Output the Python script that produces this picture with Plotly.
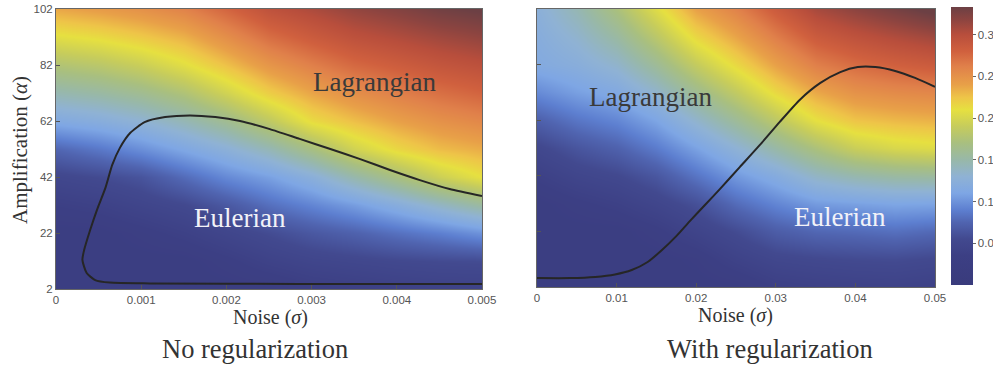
import plotly.graph_objects as go

# ---- grids (noise on x, amplification on y) ----
noise_left = [0, 0.0005, 0.001, 0.0015, 0.002, 0.0025, 0.003, 0.0035, 0.004, 0.0045, 0.005]
noise_right = [0, 0.005, 0.01, 0.015, 0.02, 0.025, 0.03, 0.035, 0.04, 0.045, 0.05]
amplification = [2, 12, 22, 32, 42, 52, 62, 72, 82, 92, 102]

# error maps, one row per amplification level (bottom to top), one column per noise level
err_no_reg = [
    [0.026, 0.026, 0.026, 0.026, 0.026, 0.027, 0.033, 0.036, 0.039, 0.041, 0.042],
    [0.026, 0.026, 0.026, 0.026, 0.033, 0.042, 0.048, 0.051, 0.054, 0.056, 0.057],
    [0.026, 0.026, 0.032, 0.039, 0.048, 0.057, 0.066, 0.073, 0.082, 0.090, 0.100],
    [0.036, 0.040, 0.047, 0.054, 0.066, 0.081, 0.093, 0.105, 0.120, 0.137, 0.154],
    [0.051, 0.056, 0.063, 0.079, 0.095, 0.107, 0.124, 0.148, 0.170, 0.193, 0.210],
    [0.076, 0.086, 0.098, 0.112, 0.126, 0.144, 0.169, 0.196, 0.215, 0.228, 0.235],
    [0.115, 0.121, 0.130, 0.144, 0.161, 0.185, 0.213, 0.227, 0.240, 0.250, 0.257],
    [0.146, 0.152, 0.161, 0.175, 0.196, 0.220, 0.238, 0.252, 0.262, 0.271, 0.278],
    [0.176, 0.182, 0.192, 0.207, 0.226, 0.247, 0.262, 0.275, 0.283, 0.291, 0.297],
    [0.207, 0.213, 0.222, 0.233, 0.252, 0.272, 0.285, 0.296, 0.303, 0.310, 0.316],
    [0.237, 0.243, 0.250, 0.260, 0.277, 0.295, 0.305, 0.315, 0.322, 0.330, 0.335],
]
err_with_reg = [
    [0.026, 0.026, 0.026, 0.026, 0.026, 0.027, 0.036, 0.039, 0.041, 0.042, 0.039],
    [0.026, 0.026, 0.026, 0.026, 0.030, 0.042, 0.051, 0.054, 0.056, 0.057, 0.054],
    [0.026, 0.026, 0.026, 0.033, 0.045, 0.057, 0.070, 0.077, 0.079, 0.082, 0.078],
    [0.026, 0.033, 0.039, 0.048, 0.060, 0.079, 0.093, 0.104, 0.107, 0.110, 0.109],
    [0.038, 0.048, 0.054, 0.065, 0.084, 0.103, 0.118, 0.137, 0.147, 0.153, 0.155],
    [0.052, 0.064, 0.073, 0.088, 0.108, 0.129, 0.151, 0.173, 0.192, 0.201, 0.205],
    [0.072, 0.085, 0.094, 0.110, 0.134, 0.158, 0.184, 0.210, 0.225, 0.230, 0.233],
    [0.096, 0.107, 0.115, 0.134, 0.161, 0.187, 0.215, 0.237, 0.250, 0.255, 0.258],
    [0.116, 0.122, 0.134, 0.158, 0.188, 0.214, 0.240, 0.262, 0.273, 0.280, 0.285],
    [0.120, 0.133, 0.153, 0.182, 0.215, 0.238, 0.263, 0.285, 0.295, 0.303, 0.310],
    [0.125, 0.145, 0.172, 0.205, 0.240, 0.260, 0.285, 0.307, 0.318, 0.328, 0.338],
]

# Eulerian / Lagrangian boundary curves
boundary_no_reg_x = [0.005, 0.00286, 0.0011, 0.00063, 0.00046, 0.00036, 0.00031, 0.00033, 0.0004,
                     0.00048, 0.00058, 0.00066, 0.00075, 0.00087, 0.00104, 0.00128, 0.00157, 0.00187,
                     0.00216, 0.00251, 0.00286, 0.00322, 0.00357, 0.00392, 0.00427, 0.00462, 0.005]
boundary_no_reg_y = [3.8, 3.8, 4.0, 4.3, 5.2, 7.7, 12.4, 15.9, 23.0, 30.2, 38.1, 46.3, 52.4, 57.7,
                     61.6, 63.4, 64.0, 63.4, 62.0, 59.1, 55.6, 52.0, 48.4, 44.5, 40.9, 37.7, 35.2]
boundary_with_reg_x = [0, 0.00415, 0.0073, 0.0098, 0.0119, 0.0139, 0.0157, 0.0175, 0.0192, 0.0211,
                       0.0230, 0.0255, 0.0280, 0.0305, 0.0330, 0.0356, 0.0381, 0.0403, 0.0425,
                       0.0450, 0.0475, 0.05]
boundary_with_reg_y = [5.2, 5.2, 5.6, 6.5, 8.1, 11.0, 15.3, 20.3, 25.7, 31.5, 37.3, 45.2, 53.1,
                       61.4, 69.3, 75.4, 79.3, 81.1, 81.1, 79.7, 77.2, 74.0]

left_xticks = [0, 0.001, 0.002, 0.003, 0.004, 0.005]
right_xticks = [0, 0.01, 0.02, 0.03, 0.04, 0.05]
yticks = [2, 22, 42, 62, 82, 102]
cbar_ticks = [0.05, 0.1, 0.15, 0.2, 0.25, 0.3]

CMAX = 0.333
stops = [
    (0.000, "#393b7c"), (0.035, "#3c3f84"), (0.055, "#42498f"), (0.075, "#5064b0"),
    (0.090, "#5d7fd0"), (0.110, "#7ea6e4"), (0.130, "#8fb2d4"), (0.150, "#98b8a8"),
    (0.170, "#a8bf80"), (0.190, "#c6cc5c"), (0.210, "#e6e040"), (0.225, "#eec448"),
    (0.240, "#e8a048"), (0.262, "#e0804a"), (0.280, "#d0603e"), (0.300, "#b84e3c"),
    (0.318, "#8c4440"), (0.333, "#6c4044"),
]
colorscale = [[v / CMAX, c] for v, c in stops]

SERIF = "Liberation Serif, DejaVu Serif, serif"
SANS = "Liberation Sans, Arial, sans-serif"

fig = go.Figure()
fig.add_trace(go.Heatmap(x=noise_left, y=amplification, z=err_no_reg, zsmooth="best",
                         coloraxis="coloraxis", xaxis="x", yaxis="y", hoverinfo="skip"))
fig.add_trace(go.Heatmap(x=noise_right, y=amplification, z=err_with_reg, zsmooth="best",
                         coloraxis="coloraxis", xaxis="x2", yaxis="y2", hoverinfo="skip"))
fig.add_trace(go.Scatter(x=boundary_no_reg_x, y=boundary_no_reg_y, mode="lines",
                         line=dict(color="#262626", width=2, shape="spline", smoothing=0.6),
                         xaxis="x", yaxis="y", showlegend=False))
fig.add_trace(go.Scatter(x=boundary_with_reg_x, y=boundary_with_reg_y, mode="lines",
                         line=dict(color="#262626", width=2, shape="spline", smoothing=0.6),
                         xaxis="x2", yaxis="y2", showlegend=False))

axis_common = dict(showgrid=False, zeroline=False, ticks="inside", ticklen=4, tickcolor="#555",
                   showline=True, linecolor="#666", linewidth=1, mirror=True,
                   tickfont=dict(family=SANS, size=11.5, color="#555"))

fig.update_layout(
    width=993, height=365, margin=dict(l=0, r=0, t=0, b=0, autoexpand=False),
    paper_bgcolor="white", plot_bgcolor="white", showlegend=False,
    xaxis=dict(domain=[56 / 993, 482 / 993], range=[0, 0.005], tickvals=left_xticks,
               ticktext=[str(v) for v in left_xticks], anchor="y", **axis_common),
    yaxis=dict(domain=[1 - 289 / 365, 1 - 9 / 365], range=[2, 102], tickvals=yticks,
               anchor="x", **axis_common),
    xaxis2=dict(domain=[537 / 993, 935 / 993], range=[0, 0.05], tickvals=right_xticks,
                ticktext=[str(v) for v in right_xticks], anchor="y2", **axis_common),
    yaxis2=dict(domain=[1 - 287 / 365, 1 - 9 / 365], range=[2, 102], tickvals=yticks,
                showticklabels=False, anchor="x2", **axis_common),
    coloraxis=dict(
        colorscale=colorscale, cmin=0, cmax=CMAX,
        colorbar=dict(x=951 / 993, xanchor="left", xpad=0, ypad=0, y=1 - 7 / 365, yanchor="top",
                      len=278 / 365, lenmode="fraction", thickness=22, thicknessmode="pixels",
                      tickvals=cbar_ticks, ticktext=[f"{v:g}" for v in cbar_ticks],
                      ticks="outside", ticklen=3, tickcolor="#666",
                      outlinewidth=0,
                      tickfont=dict(family=SANS, size=11.5, color="#555")),
    ),
)

labels = [
    ("x", "y", 0.00374, 75.9, "Lagrangian", "#3a3a3a", 27),
    ("x", "y", 0.00216, 27.4, "Eulerian", "#f2f2f8", 27),
    ("x2", "y2", 0.0142, 70.3, "Lagrangian", "#3a3a3a", 27),
    ("x2", "y2", 0.0381, 27.2, "Eulerian", "#f2f2f8", 27),
]
for xr, yr, xv, yv, txt, col, sz in labels:
    fig.add_annotation(xref=xr, yref=yr, x=xv, y=yv, text=txt, showarrow=False,
                       xanchor="center", yanchor="middle",
                       font=dict(family=SERIF, size=sz, color=col))

paper_texts = [
    (20 / 993, 1 - 150 / 365, "Amplification (<i>α</i>)", 21, -90),
    (270 / 993, 1 - 317 / 365, "Noise (<i>σ</i>)", 20, 0),
    (735 / 993, 1 - 315 / 365, "Noise (<i>σ</i>)", 20, 0),
    (255 / 993, 1 - 349 / 365, "No regularization", 26.5, 0),
    (770 / 993, 1 - 349 / 365, "With regularization", 26.5, 0),
]
for xv, yv, txt, sz, ang in paper_texts:
    fig.add_annotation(xref="paper", yref="paper", x=xv, y=yv, text=txt, showarrow=False,
                       xanchor="center", yanchor="middle", textangle=ang,
                       font=dict(family=SERIF, size=sz, color="#333"))

fig.write_html("out.html")
